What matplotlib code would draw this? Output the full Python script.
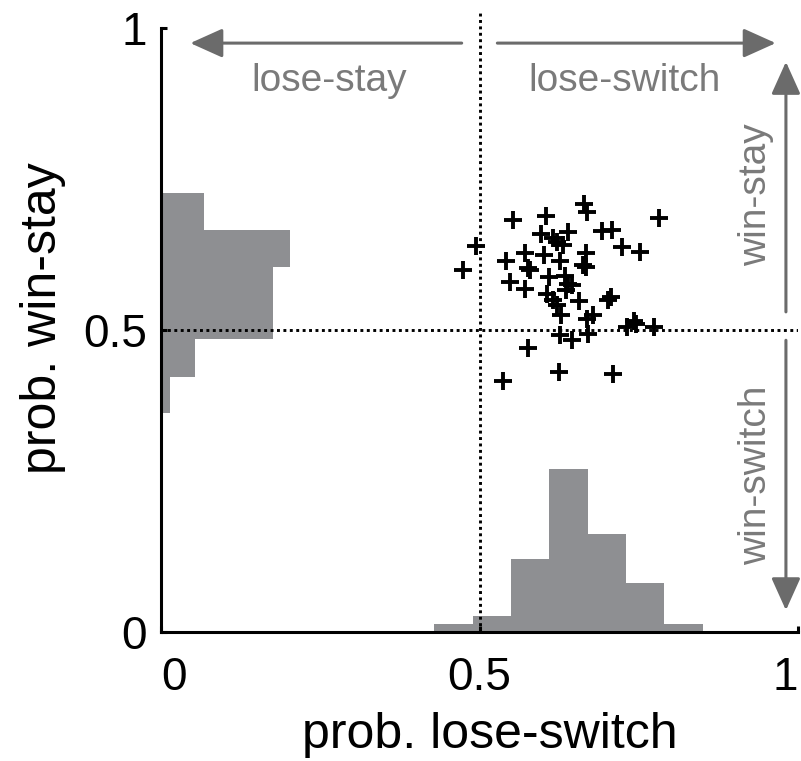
import numpy as np
import matplotlib
matplotlib.use("Agg")
import matplotlib.pyplot as plt

plt.rcParams['font.family'] = ['Liberation Sans', 'DejaVu Sans']

# Per-subject probabilities
lose_switch = [0.664, 0.669, 0.604, 0.553, 0.782, 0.692, 0.708, 0.597, 0.639, 0.615,
               0.622, 0.631, 0.495, 0.724, 0.752, 0.667, 0.571, 0.601, 0.474, 0.542,
               0.626, 0.663, 0.667, 0.576, 0.579, 0.548, 0.571, 0.609, 0.634, 0.639,
               0.645, 0.636, 0.606, 0.615, 0.622, 0.656, 0.702, 0.706, 0.628, 0.678,
               0.669, 0.732, 0.743, 0.746, 0.774, 0.626, 0.645, 0.670, 0.576, 0.625,
               0.710, 0.537]
win_stay = [0.709, 0.695, 0.689, 0.682, 0.685, 0.664, 0.666, 0.659, 0.662, 0.652,
            0.646, 0.641, 0.639, 0.637, 0.629, 0.627, 0.627, 0.624, 0.599, 0.614,
            0.614, 0.608, 0.604, 0.603, 0.599, 0.580, 0.568, 0.588, 0.589, 0.576,
            0.575, 0.566, 0.560, 0.550, 0.541, 0.548, 0.550, 0.555, 0.525, 0.525,
            0.518, 0.505, 0.515, 0.510, 0.505, 0.492, 0.483, 0.493, 0.470, 0.430,
            0.427, 0.416]

# Marginal histograms (counts per bin)
ls_edges = [0.429, 0.489, 0.549, 0.609, 0.670, 0.730, 0.790, 0.851]
ls_counts = [1, 2, 9, 20, 12, 6, 1]
ws_edges = [0.363, 0.422, 0.485, 0.545, 0.604, 0.666, 0.727]
ws_counts = [1, 4, 13, 13, 15, 5]
hist_scale = 0.0135

hist_color = '#8e8f92'
arrow_color = '#6b6b6b'
text_color = '#7a7a7a'

fig = plt.figure(figsize=(8.01, 7.61), dpi=100)
ax = fig.add_axes([0.201, 0.1695, 0.7953, 0.7937])
ax.set_xlim(0, 1)
ax.set_ylim(0, 1)

ax.stairs(np.array(ls_counts) * hist_scale, ls_edges, fill=True, color=hist_color, zorder=1)
ax.stairs(np.array(ws_counts) * hist_scale, ws_edges, fill=True, color=hist_color,
          orientation='horizontal', zorder=1)

dots = (0, (1, 1.2))
ax.axhline(0.5, color='k', lw=2.1, ls=dots, zorder=2)
ax.plot([0.5, 0.5], [0, 1.025], color='k', lw=2.1, ls=dots, clip_on=False, zorder=2)

ax.scatter(lose_switch, win_stay, marker='+', s=175, c='k', linewidths=2.8, zorder=3)

# direction arrows
arrow = dict(arrowstyle='-|>,head_length=0.8,head_width=0.36', color=arrow_color,
             lw=2.2, mutation_scale=25, shrinkA=0, shrinkB=0)
for tip, tail in [((0.046, 0.975), (0.472, 0.975)),
                  ((0.965, 0.975), (0.528, 0.975)),
                  ((0.981, 0.944), (0.981, 0.530)),
                  ((0.981, 0.036), (0.981, 0.483))]:
    ax.annotate('', xy=tip, xytext=tail, arrowprops=arrow, annotation_clip=False)

ax.text(0.264, 0.896, 'lose-stay', fontsize=28, color=text_color, ha='center', va='baseline')
ax.text(0.728, 0.896, 'lose-switch', fontsize=28, color=text_color, ha='center', va='baseline')
ax.text(0.950, 0.7235, 'win-stay', fontsize=28, color=text_color, rotation=90,
        rotation_mode='anchor', ha='center', va='baseline')
ax.text(0.950, 0.26, 'win-switch', fontsize=28, color=text_color, rotation=90,
        rotation_mode='anchor', ha='center', va='baseline')

for side in ['top', 'right']:
    ax.spines[side].set_visible(False)
for side in ['left', 'bottom']:
    ax.spines[side].set_linewidth(2.2)

ax.set_xticks([0, 0.5, 1], ['0', '0.5', '1'])
ax.set_yticks([0, 0.5, 1], ['0', '0.5', '1'])
ax.tick_params(direction='in', length=4, width=2.2, labelsize=33)
ax.tick_params(axis='x', pad=17)
ax.tick_params(axis='y', pad=10)
xlabels = ax.get_xticklabels()
xlabels[0].set_horizontalalignment('left')
xlabels[0].set_x(0.0)
xlabels[-1].set_horizontalalignment('right')

fig.text(490 / 801, 1 - 748 / 761, 'prob. lose-switch', fontsize=36, ha='center', va='baseline')
fig.text(56 / 801, 1 - 318 / 761, 'prob. win-stay', fontsize=36, rotation=90,
         rotation_mode='anchor', ha='center', va='baseline')

fig.savefig('out.png', dpi=100)
